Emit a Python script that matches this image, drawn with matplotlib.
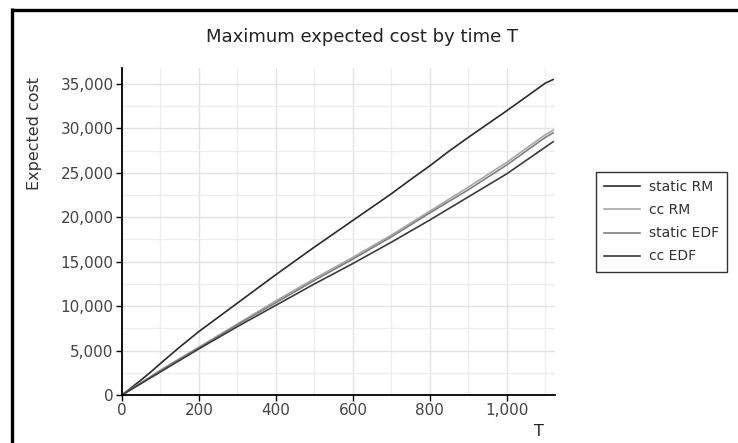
import matplotlib
matplotlib.use("Agg")
import matplotlib.pyplot as plt
from matplotlib.ticker import FuncFormatter, MultipleLocator
from matplotlib.lines import Line2D

T = [0, 25, 50, 75, 100, 150, 200, 250, 300, 350, 400, 450, 500, 550, 600, 650,
     700, 750, 800, 850, 900, 950, 1000, 1050, 1100, 1120]
static_rm = [0, 850, 1700, 2600, 3550, 5400, 7150, 8750, 10350, 11950, 13550, 15100,
             16650, 18150, 19650, 21150, 22650, 24250, 25800, 27450, 29000, 30500,
             32000, 33550, 35100, 35500]
cc_rm = [0, 700, 1400, 2100, 2800, 4100, 5400, 6700, 8000, 9300, 10600, 11850,
         13100, 14300, 15500, 16750, 18000, 19350, 20700, 22050, 23400, 24800,
         26200, 27750, 29300, 29800]
static_edf = [0, 680, 1350, 2050, 2750, 4050, 5300, 6600, 7900, 9150, 10400, 11650,
              12900, 14100, 15300, 16550, 17800, 19150, 20500, 21800, 23100, 24500,
              25900, 27450, 29000, 29500]
cc_edf = [0, 650, 1300, 1950, 2600, 3900, 5200, 6450, 7700, 8900, 10100, 11300,
          12500, 13650, 14800, 16000, 17200, 18450, 19700, 21000, 22300, 23600,
          24900, 26400, 27900, 28500]

series = [("static RM", static_rm, "#2b2b2b"),
          ("cc RM", cc_rm, "#a8a8a8"),
          ("static EDF", static_edf, "#808080"),
          ("cc EDF", cc_edf, "#3c3c3c")]

W, H = 738, 443
fig = plt.figure(figsize=(W / 100, H / 100), dpi=100)
# frame lines (top and left only)
fig.add_artist(Line2D([12 / W, 1.0], [1 - 9.5 / H, 1 - 9.5 / H], transform=fig.transFigure,
                      color="black", linewidth=2.4, solid_capstyle="butt"))
fig.add_artist(Line2D([12 / W, 12 / W], [0.0, 1 - 8.3 / H], transform=fig.transFigure,
                      color="black", linewidth=2.4, solid_capstyle="butt"))

ax = fig.add_axes([122 / W, 1 - 395 / H, (555 - 122) / W, (395 - 68) / H])

lines = []
for name, vals, col in series:
    l, = ax.plot(T, vals, color=col, linewidth=1.2, label=name)
    lines.append(l)

ax.set_xlim(0, 1125)
ax.set_ylim(0, 36800)
ax.xaxis.set_major_locator(MultipleLocator(200))
ax.xaxis.set_minor_locator(MultipleLocator(100))
ax.yaxis.set_major_locator(MultipleLocator(5000))
ax.yaxis.set_minor_locator(MultipleLocator(2500))
fmt = FuncFormatter(lambda v, p: f"{int(v):,}")
ax.xaxis.set_major_formatter(fmt)
ax.yaxis.set_major_formatter(fmt)
ax.grid(which="major", color="#e2e2e2", linewidth=1.0)
ax.grid(which="minor", color="#eeeeee", linewidth=1.0)
ax.set_axisbelow(True)
for s in ["top", "right"]:
    ax.spines[s].set_visible(False)
for s in ["left", "bottom"]:
    ax.spines[s].set_linewidth(1.3)
ax.tick_params(which="major", length=4, width=1, labelsize=11, labelcolor="#444444", pad=2)
ax.tick_params(which="minor", length=0)

fig.text(34 / W, 1 - 133 / H, "Expected cost", fontsize=11.5, color="#333333",
         rotation=90, ha="center", va="center")
fig.text(539 / W, 1 - 431 / H, "T", fontsize=11.5, color="#222222", ha="center", va="center")
fig.text(0.49, 1 - 37 / H, "Maximum expected cost by time T", fontsize=13,
         color="#222222", ha="center", va="center")

leg = fig.legend(handles=lines, loc="upper left", bbox_to_anchor=(596 / W, 1 - 172 / H),
                 frameon=True, fancybox=False, edgecolor="black", fontsize=10,
                 handlelength=2.6, handletextpad=0.6, labelspacing=0.65,
                 borderpad=0.6, borderaxespad=0)
leg.get_frame().set_linewidth(1.0)
for t in leg.get_texts():
    t.set_color("#333333")

fig.savefig("out.png", dpi=100)
